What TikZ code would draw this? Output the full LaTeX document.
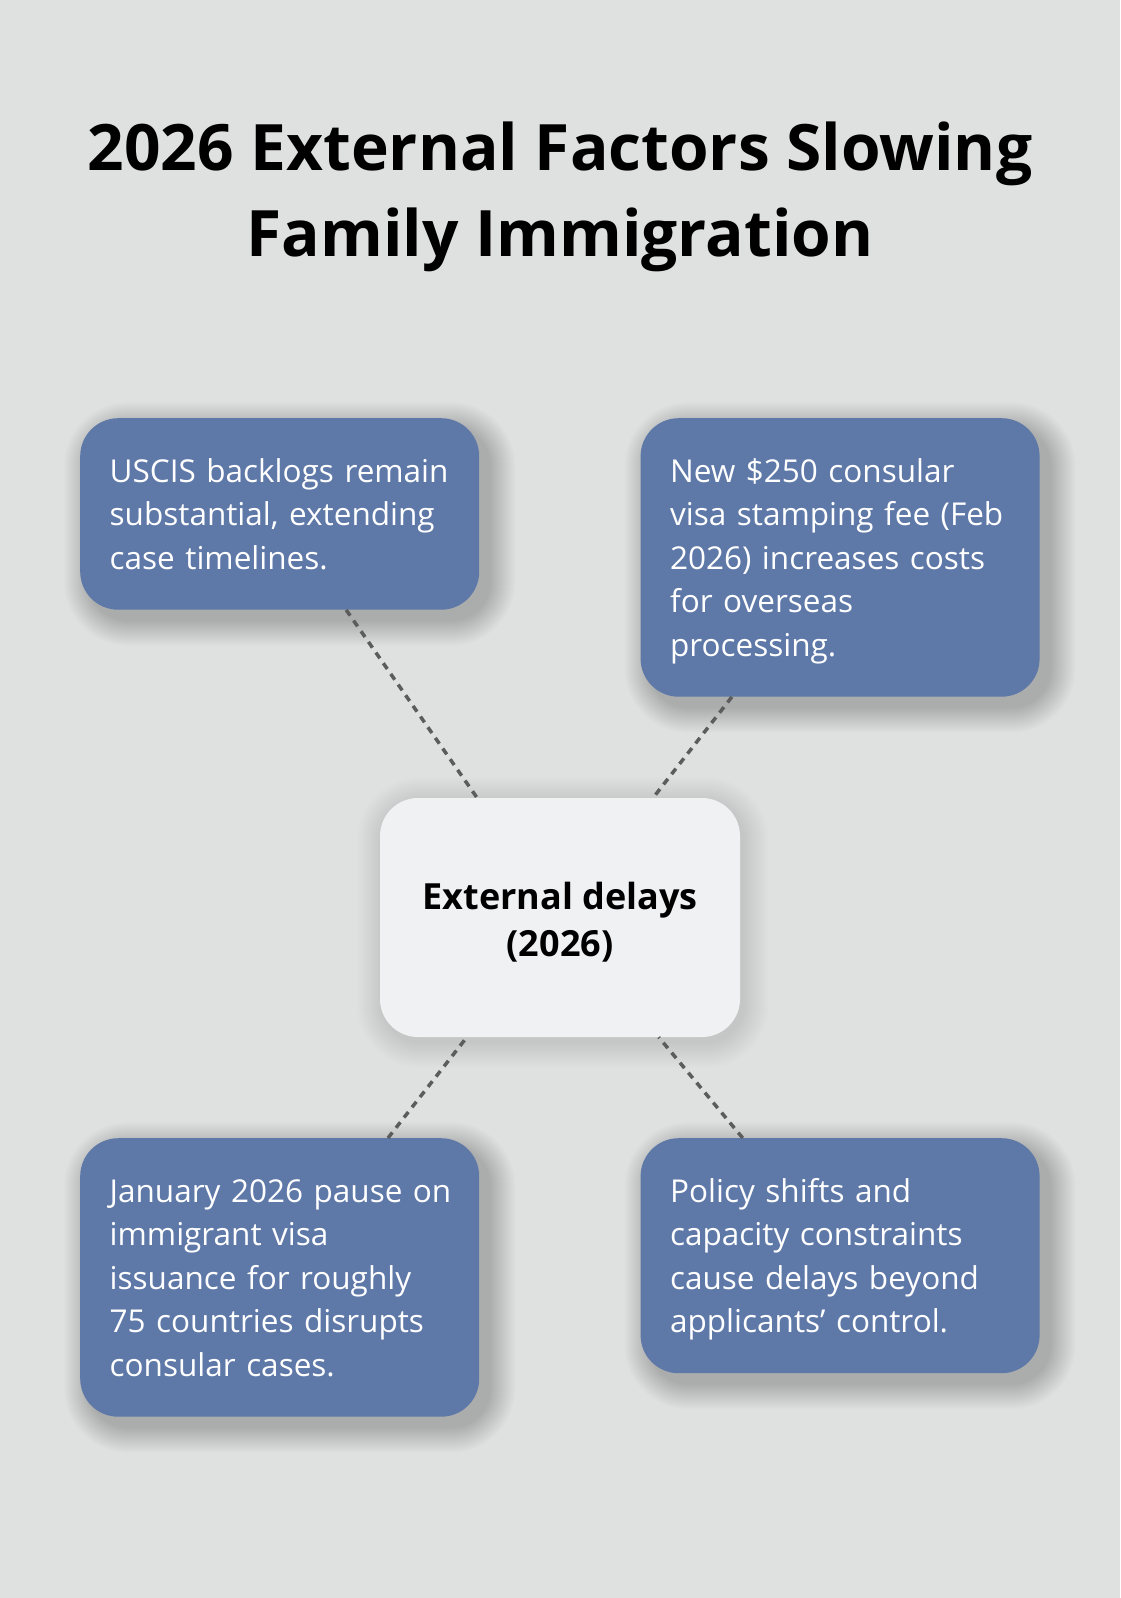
\documentclass[tikz,border=0pt]{standalone}
\usepackage{fontspec}
\setmainfont{Open Sans}
\usetikzlibrary{positioning}
\pgfdeclarelayer{bg}
\pgfsetlayers{bg,main}
\definecolor{bgcol}{HTML}{DFE1E0}
\definecolor{boxblue}{HTML}{5E78A8}
\definecolor{hubfill}{HTML}{F0F1F3}
\definecolor{linkgray}{HTML}{5C5C5C}
\newcommand{\bxstrut}{\rule[-10pt]{0pt}{43.5pt}}
\newcommand{\bxline}[1]{\mbox{\bxstrut#1}}

\begin{document}
\begin{tikzpicture}[x=1pt,y=-1pt,
  factor node/.style={rectangle,rounded corners=38pt,fill=boxblue,text=white,
    text width=340pt,inner xsep=29.5pt,inner ysep=30.5pt,align=left,
    font=\fontsize{31.5}{43.5}\selectfont},
  hub node/.style={rectangle,rounded corners=38pt,fill=hubfill,text=black,
    minimum width=360pt,minimum height=239pt,align=center,
    font=\bfseries\fontsize{36}{47}\selectfont},
  title node/.style={inner sep=0pt,align=center,font=\bfseries\fontsize{64}{85.3}\selectfont},
  shadow layer/.style={fill=black,opacity=#1},
  link/.style={color=linkgray,line width=3.5pt,dash pattern=on 7pt off 6pt}]

  \useasboundingbox (0,0) rectangle (1120,1598);

  \node[title node,anchor=north] (title) at (560,122) {2026 External Factors Slowing\\Family Immigration};

  \node[hub node] (hub) at (560,917.5) {\rule{0pt}{36pt}External delays\\(2026)};

  \node[factor node,anchor=north west] (uscis) at (80,418)
    {\bxline{USCIS backlogs remain}\\\bxline{substantial, extending}\\\bxline{case timelines.}};
  \node[factor node,right=161pt of uscis.north east,anchor=north west] (stampfee)
    {\bxline{New \$250 consular}\\\bxline{visa stamping fee (Feb}\\\bxline{2026) increases costs}\\\bxline{for overseas}\\\bxline{processing.}};
  \node[factor node,anchor=north west] (pause) at (80,1138)
    {\bxline{January 2026 pause on}\\\bxline{immigrant visa}\\\bxline{issuance for roughly}\\\bxline{75 countries disrupts}\\\bxline{consular cases.}};
  \node[factor node,right=161pt of pause.north east,anchor=north west] (policy)
    {\bxline{Policy shifts and}\\\bxline{capacity constraints}\\\bxline{cause delays beyond}\\\bxline{applicants’ control.}};

  \path[link]
    (uscis)    edge (hub)
    (stampfee) edge (hub)
    (pause)    edge (hub)
    (policy)   edge (hub);

  % soft shadows behind the boxes
  \begin{pgfonlayer}{bg}
    \fill[bgcol] (0,0) rectangle (1120,1598);
    \foreach \b in {uscis,stampfee,pause,policy}{
      \foreach \k in {1,...,26}{
        \fill[shadow layer=0.007,rounded corners=38pt+\k*1pt]
          ([xshift=10pt-\k*1pt,yshift=\k*1pt-10pt]\b.north west) rectangle
          ([xshift=10pt+\k*1pt,yshift=-10pt-\k*1pt]\b.south east);
      }
    }
    \foreach \k in {1,...,26}{
      \fill[shadow layer=0.004,rounded corners=38pt+\k*1pt]
        ([xshift=3pt-\k*1pt,yshift=\k*1pt-5pt]hub.north west) rectangle
        ([xshift=3pt+\k*1pt,yshift=-5pt-\k*1pt]hub.south east);
    }
  \end{pgfonlayer}
\end{tikzpicture}
\end{document}
